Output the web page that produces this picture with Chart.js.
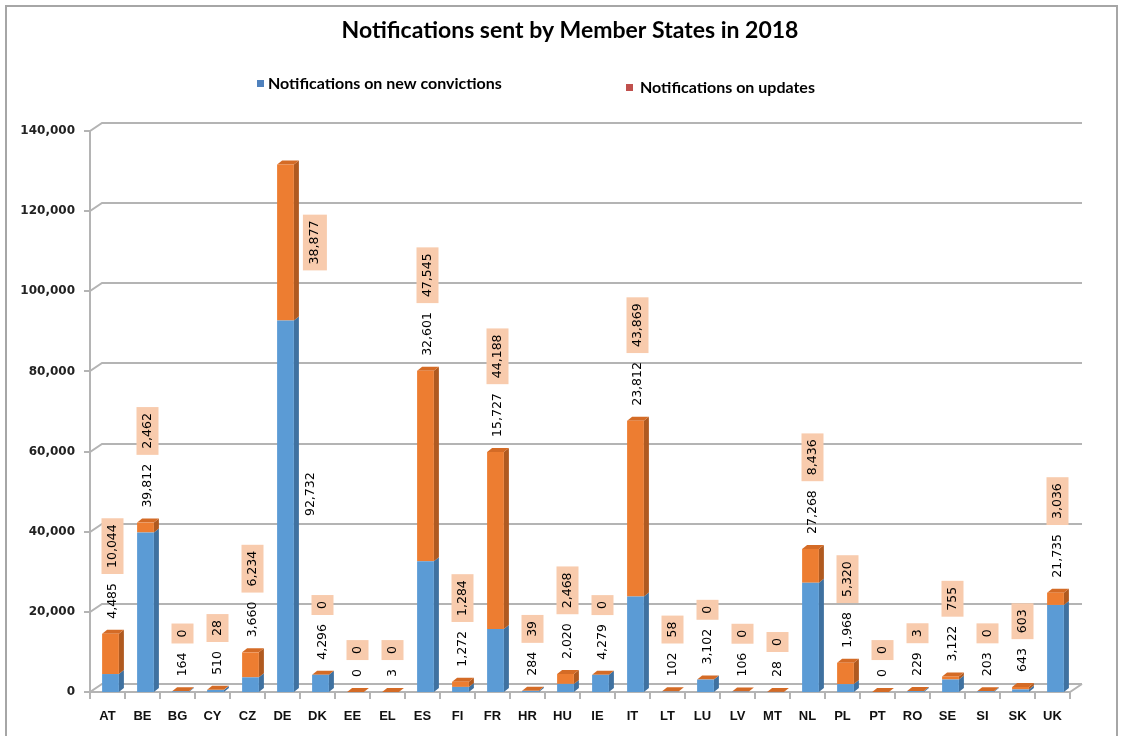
<!DOCTYPE html>
<html><head><meta charset="utf-8">
<script src="https://cdn.jsdelivr.net/npm/chart.js@4.4.1/dist/chart.umd.min.js"></script>
<style>html,body{margin:0;padding:0;background:#fff;}canvas{display:block;}</style>
</head><body>
<canvas id="c" width="1121" height="736"></canvas>
<script>
const titleText = 'Notifications sent by Member States in 2018';
const seriesNames = ['Notifications on new convictions', 'Notifications on updates'];
const categories = ['AT','BE','BG','CY','CZ','DE','DK','EE','EL','ES','FI','FR','HR','HU','IE','IT','LT','LU','LV','MT','NL','PL','PT','RO','SE','SI','SK','UK'];
const newConvictions = [4485,39812,164,510,3660,92732,4296,0,3,32601,1272,15727,284,2020,4279,23812,102,3102,106,28,27268,1968,0,229,3122,203,643,21735];
const updates = [10044,2462,0,28,6234,38877,0,0,0,47545,1284,44188,39,2468,0,43869,58,0,0,0,8436,5320,0,3,755,0,603,3036];
const yTicks = [0,20000,40000,60000,80000,100000,120000,140000];

const fmt = v => Number(v).toLocaleString('en-US');
const SHIFT = 3, DX = 5, DY = 4, GX = 12, GY = 8;
const COL = {
  blue: '#5B9BD5', blueSide: '#3F71A0', orange: '#ED7D31', orangeSide: '#B05A20', orangeTop: '#D46B26',
  grid: '#B4B4B4', box: '#F8CBAD'
};

const threeD = {
  id: 'threeD',
  beforeDraw(chart) {
    const ctx = chart.ctx, ca = chart.chartArea, ys = chart.scales.y;
    ctx.save();
    ctx.strokeStyle = '#A6A6A6'; ctx.lineWidth = 2;
    ctx.strokeRect(6, 6, 1111, 740);
    ctx.fillStyle = '#000';
    ctx.font = 'bold 23px Lato';
    ctx.textAlign = 'center'; ctx.textBaseline = 'middle';
    ctx.fillText(titleText, 570, 31);
    ctx.font = 'bold 16px Lato'; ctx.textAlign = 'left';
    ctx.fillStyle = '#4F81BD'; ctx.fillRect(257, 80, 7, 7);
    ctx.fillStyle = '#000'; ctx.fillText(seriesNames[0], 268, 84);
    ctx.fillStyle = '#C0504D'; ctx.fillRect(626, 84, 7, 7);
    ctx.fillStyle = '#000'; ctx.fillText(seriesNames[1], 640, 88);
    ctx.strokeStyle = COL.grid; ctx.lineWidth = 2;
    yTicks.forEach(v => {
      const y = Math.round(ys.getPixelForValue(v));
      ctx.beginPath();
      ctx.moveTo(ca.left - 6, y); ctx.lineTo(ca.left, y);
      ctx.lineTo(ca.left + GX, y - GY); ctx.lineTo(ca.right + GX, y - GY);
      ctx.stroke();
    });
    ctx.beginPath(); ctx.moveTo(ca.left, ys.getPixelForValue(yTicks[yTicks.length-1])); ctx.lineTo(ca.left, ca.bottom); ctx.stroke();
    ctx.beginPath();
    ctx.moveTo(ca.left, ca.bottom); ctx.lineTo(ca.right, ca.bottom); ctx.lineTo(ca.right + GX, ca.bottom - GY);
    ctx.stroke();
    const n = categories.length, w = (ca.right - ca.left) / n;
    for (let k = 0; k <= n; k++) {
      const x = Math.round(ca.left + k * w);
      ctx.beginPath(); ctx.moveTo(x, ca.bottom); ctx.lineTo(x, ca.bottom + 7); ctx.stroke();
    }
    ctx.restore();
  },
  beforeDatasetsDraw(chart) {
    const ctx = chart.ctx;
    ctx.save();
    ctx.translate(SHIFT, 0);
    const m0 = chart.getDatasetMeta(0).data, m1 = chart.getDatasetMeta(1).data;
    const face = (pts, c) => { ctx.fillStyle = c; ctx.beginPath(); ctx.moveTo(pts[0][0], pts[0][1]); for (let i = 1; i < pts.length; i++) ctx.lineTo(pts[i][0], pts[i][1]); ctx.closePath(); ctx.fill(); };
    categories.forEach((c, i) => {
      [[m0[i], COL.blueSide], [m1[i], COL.orangeSide]].forEach(([el, col]) => {
        const p = el.getProps(['x','y','base','width'], true);
        const r = p.x + p.width / 2;
        if (p.base - p.y > 0.5) face([[r, p.y], [r + DX, p.y - DY], [r + DX, p.base - DY], [r, p.base]], col);
      });
      const t = m1[i].getProps(['x','y','width'], true);
      const l = t.x - t.width / 2, r = t.x + t.width / 2;
      face([[l, t.y], [l + DX, t.y - DY], [r + DX, t.y - DY], [r, t.y]], COL.orangeTop);
    });
  },
  afterDatasetsDraw(chart) {
    const ctx = chart.ctx, ca = chart.chartArea;
    ctx.restore();
    ctx.save();
    const m0 = chart.getDatasetMeta(0).data, m1 = chart.getDatasetMeta(1).data;
    ctx.font = '12.5px "DejaVu Sans"';
    const G1 = 15, G2 = 9, PADL = 6, BOXW = 22;
    const rotText = (txt, x, y, align) => {
      ctx.save(); ctx.translate(x, y); ctx.rotate(-Math.PI / 2);
      ctx.textAlign = align; ctx.textBaseline = 'middle'; ctx.fillStyle = '#000';
      ctx.fillText(txt, 0, 0); ctx.restore();
    };
    categories.forEach((c, i) => {
      const b = m0[i].getProps(['x','y','base','width'], true);
      const o = m1[i].getProps(['x','y','base','width'], true);
      const tb = fmt(newConvictions[i]), to = fmt(updates[i]);
      const wb = ctx.measureText(tb).width, wo = ctx.measureText(to).width;
      const boxLen = wo + 2 * PADL;
      const top = o.y;
      const cx = b.x + SHIFT + 2;
      const need = G1 + wb + G2 + boxLen;
      if (top - need >= ca.top) {
        const yb = top - G1;
        rotText(tb, cx, yb, 'left');
        const boxBottom = yb - wb - G2;
        ctx.fillStyle = COL.box;
        ctx.fillRect(cx - BOXW / 2, boxBottom - boxLen, BOXW, boxLen);
        rotText(to, cx, boxBottom - boxLen / 2, 'center');
      } else {
        const sideR = b.x + SHIFT + b.width / 2 + DX;
        rotText(tb, sideR + 12, (b.y + b.base) / 2 - 12, 'center');
        const bx = sideR + 16;
        const by = (o.y + o.base) / 2;
        ctx.fillStyle = COL.box;
        ctx.fillRect(bx - BOXW / 2 - 1, by - boxLen / 2, BOXW + 2, boxLen);
        rotText(to, bx, by, 'center');
      }
    });
    ctx.restore();
  }
};

new Chart(document.getElementById('c'), {
  type: 'bar',
  data: {
    labels: categories,
    datasets: [
      { label: seriesNames[0], data: newConvictions, backgroundColor: COL.blue, borderWidth: 0, stack: 's' },
      { label: seriesNames[1], data: updates, backgroundColor: COL.orange, borderWidth: 0, stack: 's' }
    ]
  },
  options: {
    responsive: false, animation: false, devicePixelRatio: 1,
    layout: { padding: { top: 131, right: 51, left: 0, bottom: 0 } },
    datasets: { bar: { barPercentage: 0.48, categoryPercentage: 1 } },
    plugins: { legend: { display: false }, title: { display: false }, tooltip: { enabled: false } },
    scales: {
      x: {
        stacked: true,
        grid: { display: false, drawTicks: false }, border: { display: false },
        ticks: { autoSkip: false, maxRotation: 0, padding: 17, color: '#111', font: { family: 'Liberation Sans', weight: 'bold', size: 13 } },
        afterFit: s => { s.height = 44; }
      },
      y: {
        stacked: true, min: 0, max: 140000,
        afterBuildTicks: s => { s.ticks = yTicks.map(v => ({ value: v })); },
        grid: { display: false, drawTicks: false }, border: { display: false },
        ticks: { padding: 15, color: '#222', callback: v => fmt(v), font: { family: 'DejaVu Sans', weight: 'bold', size: 12 } },
        afterFit: s => { s.width = 90; }
      }
    }
  },
  plugins: [threeD]
});
</script>
</body></html>
